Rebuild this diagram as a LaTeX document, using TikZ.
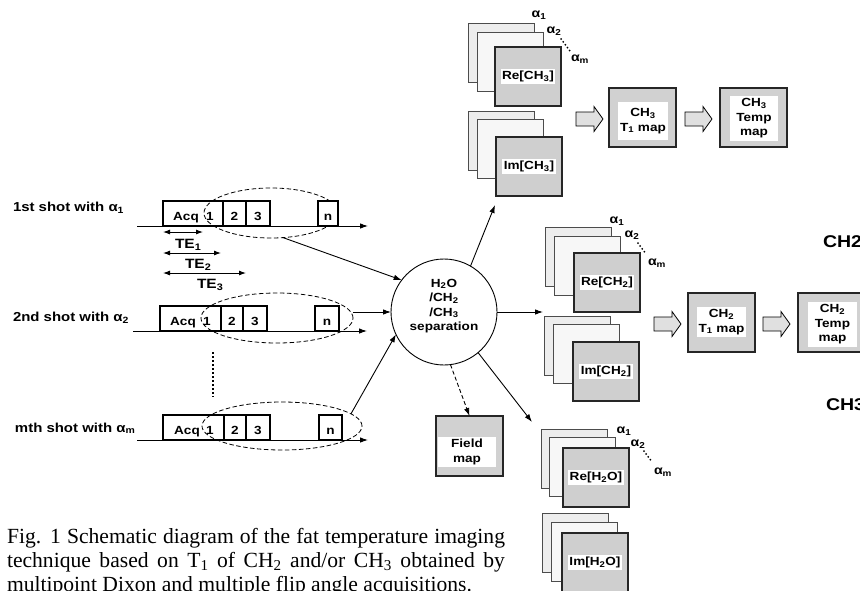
\documentclass[tikz,border=0pt]{standalone}
\usepackage{fontspec}
\setmainfont{Liberation Serif}
\newfontfamily\dg{Liberation Sans}[FakeStretch=1.15]
\usetikzlibrary{shapes.geometric,arrows.meta,calc}
\begin{document}
\begin{tikzpicture}[x=1pt,y=-1pt,
 every node/.style={inner sep=0pt,outer sep=0pt},
 lb/.style={font=\dg\bfseries\fontsize{11.8}{14.5}\selectfont, align=center},
 seglbl/.style={font=\dg\bfseries\fontsize{11.8}{13}\selectfont, anchor=base},
 shotlbl/.style={font=\dg\bfseries\fontsize{13}{14}\selectfont, anchor=base west},
 telbl/.style={font=\dg\bfseries\fontsize{13.5}{14}\selectfont, anchor=base west},
 seg/.style={draw, line width=1.3pt, minimum height=25pt, anchor=south west},
 nseg/.style={seg, fill=white},
 tline/.style={line width=0.9pt, -{Latex[length=8pt,width=5.5pt]}},
 tearr/.style={line width=0.9pt, {Latex[length=7pt,width=5pt]}-{Latex[length=7pt,width=5pt]}},
 dell/.style={ellipse, draw, line width=0.8pt, dash pattern=on 4.5pt off 2.5pt},
 conn/.style={line width=0.9pt, -{Latex[length=8pt,width=5.5pt]}},
 sq/.style={minimum width=66pt, minimum height=59pt, anchor=north west},
 backsq/.style={sq, draw=black!70, line width=0.8pt, fill=black!7},
 midsq/.style={sq, draw=black!70, line width=0.8pt, fill=black!3},
 frontsq/.style={sq, draw=black!85, line width=1.1pt, fill=black!19},
 wlab/.style={lb, fill=white, inner xsep=1.5pt, inner ysep=2pt},
 mapbox/.style={draw=black!85, line width=1.3pt, fill=black!18, minimum width=67pt, minimum height=59pt, anchor=north west},
 alab/.style={font=\dg\bfseries\fontsize{12.3}{14}\selectfont},
 adots/.style={line width=2pt, line cap=round, dash pattern=on 0pt off 3.6pt},
 bigl/.style={font=\dg\bfseries\fontsize{17}{20}\selectfont, anchor=base west},
 captxt/.style={anchor=base west, font=\fontsize{21.6}{24}\selectfont},
 barrow/.pic={\draw[line width=0.8pt, fill=black!12] (0,-7) -- (18,-7) -- (18,-12.5) -- (27,0) -- (18,12.5) -- (18,7) -- (0,7) -- cycle;},
]
\path[use as bounding box, fill=white] (0,0) rectangle (860,590);

% ---------- shot 1 ----------
\node[shotlbl] (s1) at (13,211) {1st shot with α\textsubscript{1}};
\coordinate (t1s) at (137,226); \coordinate (t1e) at (368,226);
\draw[tline] (t1s) -- (t1e);
\node[seg, minimum width=60pt] (a1) at (163,226) {};
\node[seg, minimum width=23pt] (b1) at (223,226) {};
\node[seg, minimum width=24pt] (c1) at (246,226) {};
\node[dell, minimum width=134pt, minimum height=50pt] (e1) at (271,213) {};
\node[nseg, minimum width=20pt] (n1) at (318,226) {};
\node[seglbl] at (186,220) {Acq};
\node[seglbl] at (210,220) {1};
\node[seglbl] at (b1.center |- 0,220) {2};
\node[seglbl] at (c1.center |- 0,220) {3};
\node[seglbl] at (n1.center |- 0,220) {n};

% TE arrows
\coordinate (te1a) at (163,232); \coordinate (te1b) at (203,232);
\coordinate (te2a) at (163,253); \coordinate (te2b) at (221,253);
\coordinate (te3a) at (163,273); \coordinate (te3b) at (246,273);
\draw[tearr] (te1a) -- (te1b);
\draw[tearr] (te2a) -- (te2b);
\draw[tearr] (te3a) -- (te3b);
\node[telbl] (te1) at (175,248) {TE\textsubscript{1}};
\node[telbl] (te2) at (185,268) {TE\textsubscript{2}};
\node[telbl] (te3) at (197,288) {TE\textsubscript{3}};

% ---------- shot 2 ----------
\node[shotlbl] (s2) at (13,321) {2nd shot with α\textsubscript{2}};
\coordinate (t2s) at (133,331); \coordinate (t2e) at (367,331);
\draw[tline] (t2s) -- (t2e);
\node[seg, minimum width=61pt] (a2) at (160,331) {};
\node[seg, minimum width=22pt] (b2) at (221,331) {};
\node[seg, minimum width=24pt] (c2) at (243,331) {};
\node[dell, minimum width=152pt, minimum height=50pt] (e2) at (277,318) {};
\node[nseg, minimum width=24pt] (n2) at (315,331) {};
\node[seglbl] at (183,325) {Acq};
\node[seglbl] at (207,325) {1};
\node[seglbl] at (b2.center |- 0,325) {2};
\node[seglbl] at (c2.center |- 0,325) {3};
\node[seglbl] at (n2.center |- 0,325) {n};

% vertical dots
\coordinate (vd1) at (213,352); \coordinate (vd2) at (213,397);
\draw[line width=2.6pt, dash pattern=on 2pt off 2pt] (vd1) -- (vd2);

% ---------- shot m ----------
\node[shotlbl] (sm) at (15,432) {mth shot with α\textsubscript{m}};
\coordinate (tms) at (137,440); \coordinate (tme) at (368,440);
\draw[tline] (tms) -- (tme);
\node[seg, minimum width=61pt] (am) at (163,440) {};
\node[seg, minimum width=22pt] (bm) at (224,440) {};
\node[seg, minimum width=24pt] (cm) at (246,440) {};
\node[dell, minimum width=160pt, minimum height=48pt] (em) at (282,426) {};
\node[nseg, minimum width=23pt] (nm) at (319,440) {};
\node[seglbl] at (187,434) {Acq};
\node[seglbl] at (210,434) {1};
\node[seglbl] at (bm.center |- 0,434) {2};
\node[seglbl] at (cm.center |- 0,434) {3};
\node[seglbl] at (nm.center |- 0,434) {n};

% ---------- separation circle ----------
\node[circle, draw, line width=0.9pt, minimum size=106pt] (sep) at (444,312) {};
\node[lb] (septxt) at (444,306) {H\textsubscript{2}O\\/CH\textsubscript{2}\\/CH\textsubscript{3}\\separation};

\draw[conn] (e1.-64) -- (sep.143);
\draw[conn] (sep.west -| e2.east) -- (sep.west);
\draw[conn] (em.10) -- (sep.205);

% field map
\node[mapbox, minimum height=60pt] (fm) at (436,416) {};
\node[wlab, minimum width=58pt, minimum height=30pt] (fmt) at (467,452) {Field\\map};

\coordinate (to3) at (495,205);
\coordinate (to2) at (543,312);
\coordinate (to1) at (532,422);
\draw[conn] (sep.60) -- (to3);
\draw[conn] (sep.east) -- (to2);
\draw[conn] (sep.-50) -- (to1);
\draw[conn, dash pattern=on 4pt off 2.5pt] (sep.-83) -- (fm.north);

% ---------- CH3 stacks ----------
\node[backsq] (r3b) at (468,23) {};
\node[midsq] (r3m) at (477,32) {};
\node[frontsq] (r3f) at (495,47) {};
\node[wlab] at (r3f.center) {Re[CH\textsubscript{3}]};
\node[backsq] (i3b) at (468,111) {};
\node[midsq] (i3m) at (477,119) {};
\node[frontsq] (i3f) at (496,137) {};
\node[wlab] at (i3f.center) {Im[CH\textsubscript{3}]};
\node[alab] at (539,15) {α\textsubscript{1}};
\node[alab] at (554,31) {α\textsubscript{2}};
\coordinate (d3a) at (561,39); \coordinate (d3b) at (570,51);
\draw[adots] (d3a) -- (d3b);
\node[alab] at (580,59) {α\textsubscript{m}};

\pic at (576,119) {barrow};
\node[mapbox] (t13) at (609,88) {};
\node[wlab, minimum width=50pt, minimum height=38pt] at (643,121) {CH\textsubscript{3}\\T\textsubscript{1} map};
\pic at (685,119) {barrow};
\node[mapbox] (tp3) at (720,88) {};
\node[wlab, minimum width=48pt, minimum height=45pt] at (754,118.5) {CH\textsubscript{3}\\Temp\\map};

% ---------- CH2 stacks ----------
\node[backsq] (r2b) at (545,227) {};
\node[midsq] (r2m) at (554,236) {};
\node[frontsq] (r2f) at (574,253) {};
\node[wlab] at (r2f.center) {Re[CH\textsubscript{2}]};
\node[backsq] (i2b) at (544,316) {};
\node[midsq] (i2m) at (553,324) {};
\node[frontsq] (i2f) at (573,342) {};
\node[wlab] at (i2f.center) {Im[CH\textsubscript{2}]};
\node[alab] at (617,221) {α\textsubscript{1}};
\node[alab] at (632,235) {α\textsubscript{2}};
\coordinate (d2a) at (638,243); \coordinate (d2b) at (646,254);
\draw[adots] (d2a) -- (d2b);
\node[alab] at (657,263) {α\textsubscript{m}};

\pic at (654,324) {barrow};
\node[mapbox] (t12) at (688,293) {};
\node[wlab, minimum width=49pt, minimum height=30pt] at (721.5,322) {CH\textsubscript{2}\\T\textsubscript{1} map};
\pic at (763,324) {barrow};
\node[mapbox] (tp2) at (798,293) {};
\node[wlab, minimum width=49pt, minimum height=45pt] at (832.5,324.5) {CH\textsubscript{2}\\Temp\\map};

\node[bigl] (bch2) at (823,247) {CH2};
\node[bigl] (bch3) at (826,410) {CH3};

% ---------- H2O stacks ----------
\node[backsq] (r1b) at (541,429) {};
\node[midsq] (r1m) at (549,437) {};
\node[frontsq] (r1f) at (563,448) {};
\node[wlab] at (r1f.center) {Re[H\textsubscript{2}O]};
\node[backsq] (i1b) at (542,513) {};
\node[midsq] (i1m) at (551,522) {};
\node[frontsq] (i1f) at (562,533) {};
\node[wlab] at (i1f.center) {Im[H\textsubscript{2}O]};
\node[alab] at (624,431) {α\textsubscript{1}};
\node[alab] at (638,444) {α\textsubscript{2}};
\coordinate (d1a) at (644,451); \coordinate (d1b) at (652,462);
\draw[adots] (d1a) -- (d1b);
\node[alab] at (663,472) {α\textsubscript{m}};

% ---------- caption ----------
\node[captxt] (cap1) at (7,543) {\makebox[498pt][s]{Fig. 1 Schematic diagram of the fat temperature imaging}};
\node[captxt] (cap2) at (7,567) {\makebox[498pt][s]{technique based on T\textsubscript{1} of CH\textsubscript{2} and/or CH\textsubscript{3} obtained by}};
\node[captxt] (cap3) at (7,591) {multipoint Dixon and multiple flip angle acquisitions.};
\end{tikzpicture}
\end{document}
